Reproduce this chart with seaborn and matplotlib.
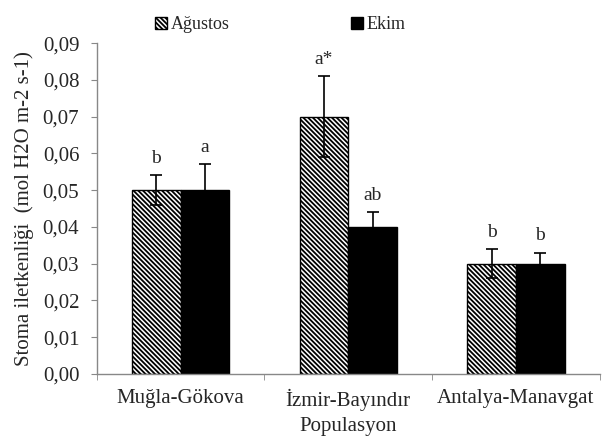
import pandas as pd
import numpy as np
import matplotlib
matplotlib.use("Agg")
import matplotlib.pyplot as plt
import seaborn as sns
from matplotlib.ticker import FuncFormatter, FixedLocator
from matplotlib.patches import Patch

# Data
populations = ["Muğla-Gökova", "İzmir-Bayındır", "Antalya-Manavgat"]
months = ["Ağustos", "Ekim"]
agustos = [0.050, 0.070, 0.030]
ekim = [0.050, 0.040, 0.030]
agustos_err = [0.004, 0.011, 0.004]
ekim_err = [0.007, 0.004, 0.003]
agustos_letters = ["b", "a*", "b"]
ekim_letters = ["a", "ab", "b"]

data = pd.DataFrame({
    "Populasyon": populations * 2,
    "Ay": ["Ağustos"] * 3 + ["Ekim"] * 3,
    "deger": agustos + ekim,
})

sns.set_style("white")
plt.rcParams["font.family"] = ["Liberation Serif", "DejaVu Serif"]
plt.rcParams["hatch.linewidth"] = 1.3
HATCH = "\\" * 7

fig = plt.figure(figsize=(6.12, 4.44), dpi=100)
ax = fig.add_axes([0.158, 0.158, 0.822, 0.745])

sns.barplot(data=data, x="Populasyon", y="deger", hue="Ay", hue_order=months,
            palette=["white", "black"], width=0.58, edgecolor="black",
            linewidth=1.0, errorbar=None, ax=ax, legend=False)

# style bars, add error bars and letters
errs = [agustos_err, ekim_err]
letters = [agustos_letters, ekim_letters]
vals = [agustos, ekim]
bar_groups = list(ax.containers)
for i, cont in enumerate(bar_groups):
    for j, bar in enumerate(cont.patches):
        if i == 0:
            bar.set_hatch(HATCH)
        xc = bar.get_x() + bar.get_width() / 2
        top = vals[i][j] + errs[i][j]
        ax.errorbar(xc, vals[i][j], yerr=errs[i][j], fmt="none", ecolor="black",
                    elinewidth=1.2, capsize=4, capthick=1.2)
        ax.text(xc, top + 0.0022, letters[i][j], ha="center", va="bottom", fontsize=14)

ax.set_ylim(0, 0.09)
ax.set_xlim(-0.5, 2.5)
ax.set_yticks(np.arange(0, 0.0901, 0.01))
ax.yaxis.set_major_formatter(FuncFormatter(lambda v, p: f"{v:.2f}".replace(".", ",")))
ax.xaxis.set_minor_locator(FixedLocator([-0.5, 0.5, 1.5, 2.5]))
ax.tick_params(axis="x", which="major", length=0, labelsize=15, pad=11)
ax.tick_params(axis="x", which="minor", length=4.5, color="#888888", direction="out", bottom=True)
ax.tick_params(axis="y", length=4.5, color="#888888", direction="out", labelsize=15, left=True, pad=8)

for s in ["top", "right"]:
    ax.spines[s].set_visible(False)
for s in ["left", "bottom"]:
    ax.spines[s].set_color("#888888")
    ax.spines[s].set_linewidth(1.0)

ax.set_xlabel("Populasyon", fontsize=15, labelpad=4)
ax.set_ylabel("Stoma iletkenliği  (mol H2O m-2 s-1)", fontsize=15, labelpad=6)

handles = [Patch(facecolor="white", edgecolor="black", hatch=HATCH, label="Ağustos"),
           Patch(facecolor="black", edgecolor="black", label="Ekim")]
fig.legend(handles=handles, loc="upper center", bbox_to_anchor=(0.458, 1.0), ncol=2,
           frameon=False, fontsize=13, handlelength=0.7, handleheight=0.7,
           handletextpad=0.2, columnspacing=6.7)

fig.savefig("out.png", dpi=100)
plt.close(fig)
